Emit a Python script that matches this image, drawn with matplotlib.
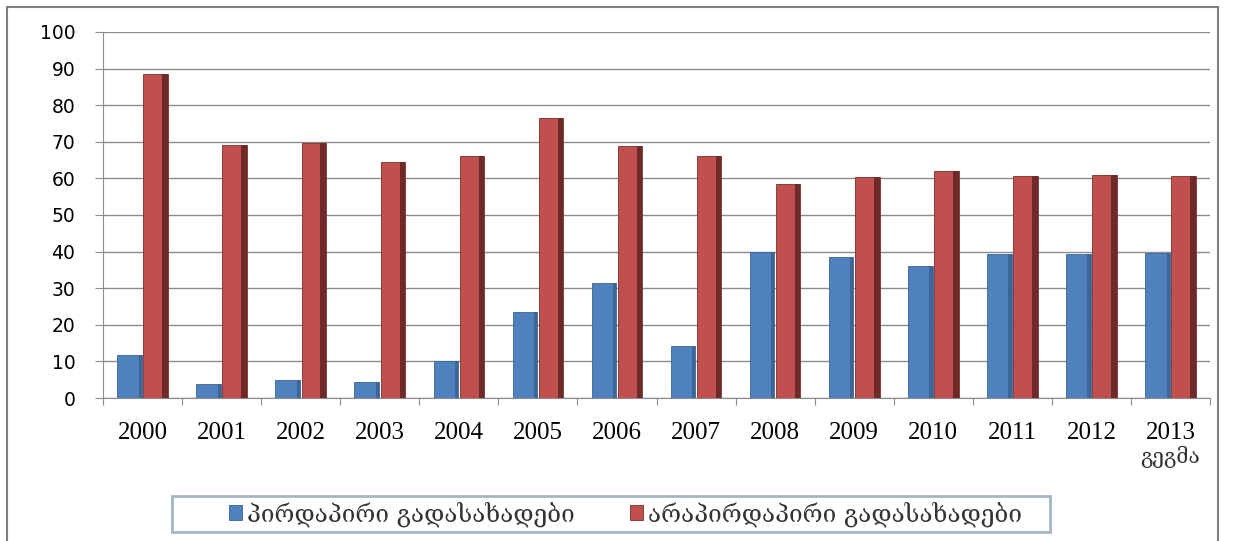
import numpy as np
import matplotlib.pyplot as plt
from matplotlib.patches import Rectangle

# მონაცემები (წაკითხული სურათიდან)
years = ['2000', '2001', '2002', '2003', '2004', '2005', '2006',
         '2007', '2008', '2009', '2010', '2011', '2012', '2013']
direct = [11.7, 3.7, 5.0, 4.3, 10.1, 23.5, 31.5, 14.1, 39.8, 38.6, 36.1, 39.3, 39.3, 39.7]
indirect = [88.6, 69.0, 69.6, 64.6, 66.1, 76.5, 68.9, 66.2, 58.5, 60.3, 62.1, 60.7, 61.0, 60.7]
legend_labels = ['პირდაპირი გადასახადები', 'არაპირდაპირი გადასახადები']
plan_note = 'გეგმა'

blue = '#4f81bd'
red = '#c0504d'

fig = plt.figure(figsize=(12.43, 5.41), dpi=100)
ax = fig.add_axes([0.0829, 0.2643, 0.8906, 0.6766])

x = np.arange(len(years))
w = 0.31
b1 = ax.bar(x - 0.165, direct, w, color=blue, edgecolor='#3a6596', linewidth=0.6,
            label=legend_labels[0], zorder=3)
b2 = ax.bar(x + 0.165, indirect, w, color=red, edgecolor='#7a2f2d', linewidth=0.6,
            label=legend_labels[1], zorder=3)
# მუქი კიდე (მოცულობის ეფექტი)
ax.bar(x + 0.165 + w / 2 - 0.035, indirect, 0.07, color='#6e2a28', linewidth=0, zorder=4)
ax.bar(x - 0.165 + w / 2 - 0.02, direct, 0.04, color='#3d6698', linewidth=0, zorder=4)

ax.set_xlim(-0.5, len(years) - 0.5)
ax.set_ylim(0, 100)
ax.set_yticks(range(0, 101, 10))
ax.grid(axis='y', color='#8c8c8c', linewidth=1, zorder=0)

ax.set_xticks(np.arange(-0.5, len(years), 1))
ax.set_xticklabels([])
ax.set_xticks(x, minor=True)
ax.set_xticklabels(years, minor=True, family=['Liberation Serif', 'DejaVu Serif'],
                   fontsize=18)
ax.tick_params(axis='x', which='major', length=5, color='#8c8c8c', direction='out')
ax.tick_params(axis='x', which='minor', length=0, pad=17)
ax.tick_params(axis='y', length=6, color='#8c8c8c', labelsize=13.5, pad=14)

# "გეგმა" 2013 წლის ქვეშ
ax.text(x[-1], -16, plan_note, transform=ax.transData, ha='center', va='center',
        fontsize=15, family=['DejaVu Serif', 'DejaVu Sans'], color='#333333')

for s in ['top', 'right']:
    ax.spines[s].set_visible(False)
for s in ['left', 'bottom']:
    ax.spines[s].set_color('#8c8c8c')

# გარე ჩარჩო
fig.patches.append(Rectangle((0.0056, -0.02), 0.9743, 1.0071, transform=fig.transFigure,
                             fill=False, edgecolor='#808080', linewidth=1.5))
# ლეგენდის ჩარჩო
fig.patches.append(Rectangle((0.1384, 0.0166), 0.7064, 0.0665, transform=fig.transFigure,
                             fill=False, edgecolor='#a3b6c6', linewidth=2))

leg = fig.legend(handles=[b1, b2], labels=legend_labels, loc='center left',
                 bbox_to_anchor=(0.1842, 0.0499), ncol=2, frameon=False,
                 borderpad=0, borderaxespad=0, handlelength=0.55, handleheight=0.55,
                 handletextpad=0.2, columnspacing=2.25,
                 prop={'family': ['DejaVu Serif', 'DejaVu Sans'], 'size': 17.5})
for t in leg.get_texts():
    t.set_color('#333333')

fig.savefig('out.png', dpi=100)
